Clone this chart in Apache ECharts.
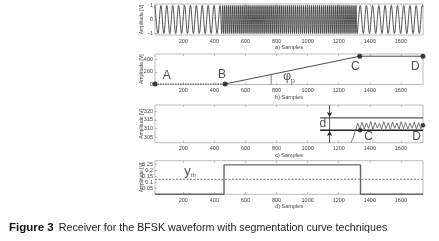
<!DOCTYPE html>
<html><head><meta charset="utf-8">
<script src="https://cdn.jsdelivr.net/npm/echarts@6/dist/echarts.min.js"></script>
<style>html,body{margin:0;padding:0;background:#fff}#c{width:439px;height:241px}</style>
</head><body><div id="c"></div>
<script>
// ---- data ----
const xTicks = [200, 400, 600, 800, 1000, 1200, 1400, 1600];
const xRange = [18, 1742];
// a) BFSK waveform: turning points [sample, amplitude]
const waveLow1 = [[18,1],[37,-1],[56,1],[75,-1],[94,1],[113,-1],[132,1],[151,-1],[170,1],[189,-1],[208,1],[227,-1],[246,1],[265,-1],[284,1],[303,-1],[322,1],[341,-1],[360,1],[379,-1],[398,1],[417,-1],[436,1]];
const waveHigh = [[447,-1],[453,1],[460,-1],[466,1],[473,-1],[479,1],[486,-1],[492,1],[499,-1],[505,1],[512,-1],[518,1],[525,-1],[531,1],[538,-1],[544,1],[551,-1],[557,1],[564,-1],[570,1],[577,-1],[583,1],[590,-1],[596,1],[603,-1],[609,1],[616,-1],[622,1],[629,-1],[635,1],[642,-1],[648,1],[655,-1],[661,1],[668,-1],[674,1],[681,-1],[687,1],[694,-1],[700,1],[707,-1],[713,1],[720,-1],[726,1],[733,-1],[739,1],[746,-1],[752,1],[759,-1],[765,1],[772,-1],[778,1],[785,-1],[791,1],[798,-1],[804,1],[811,-1],[817,1],[824,-1],[830,1],[837,-1],[843,1],[850,-1],[856,1],[863,-1],[869,1],[876,-1],[882,1],[889,-1],[895,1],[902,-1],[908,1],[915,-1],[921,1],[928,-1],[934,1],[941,-1],[947,1],[954,-1],[960,1],[967,-1],[973,1],[980,-1],[986,1],[993,-1],[999,1],[1006,-1],[1012,1],[1019,-1],[1025,1],[1032,-1],[1038,1],[1045,-1],[1051,1],[1058,-1],[1064,1],[1071,-1],[1077,1],[1084,-1],[1090,1],[1097,-1],[1103,1],[1110,-1],[1116,1],[1123,-1],[1129,1],[1136,-1],[1142,1],[1149,-1],[1155,1],[1162,-1],[1168,1],[1175,-1],[1181,1],[1188,-1],[1194,1],[1201,-1],[1207,1],[1214,-1],[1220,1],[1227,-1],[1233,1],[1240,-1],[1246,1],[1253,-1],[1259,1],[1266,-1],[1272,1],[1279,-1],[1285,1],[1292,-1],[1298,1],[1305,-1],[1311,1],[1318,-1]];
const waveLow2 = [[1338,1],[1358,-1],[1378,1],[1398,-1],[1418,1],[1438,-1],[1458,1],[1478,-1],[1498,1],[1518,-1],[1538,1],[1558,-1],[1578,1],[1598,-1],[1618,1],[1638,-1],[1658,1],[1678,-1],[1698,1],[1718,-1],[1738,1],[1742,0.9]];
const waveYTicks = [-1, 0, 1];
// b) segmentation curve
const segAB = [[18,8],[469,8]];
const segBCD = [[469,8],[1335,445],[1742,445]];
const segPoints = [[18,8],[469,8],[1335,445],[1742,445]];
const segLetters = [[93,140,'A'],[449,150,'B'],[1306,285,'C'],[1692,285,'D']];
const phiLine = [[765,0],[765,158]];
const phiLabel = [880,118];
const segYTicks = [0, 200, 400];
// c) zoom on C-D
const zoomCurve = [[1278,302],[1292,304.5],[1303,308],[1312,310],[1322,313.2],[1336,309.6],[1350,313.8],[1364,309.8],[1378,313.2],[1392,310.2],[1406,314],[1420,309.6],[1434,313.6],[1448,310.4],[1462,313],[1476,309.8],[1490,314],[1504,310],[1518,313.4],[1532,309.6],[1546,313.8],[1560,310.2],[1574,313.2],[1588,309.8],[1602,314],[1616,310],[1630,313.6],[1644,309.8],[1658,313.2],[1672,310.2],[1686,313.8],[1700,309.6],[1714,313.4],[1728,310],[1742,312]];
const zoomUpper = [[1080,316.2],[1742,316.2]];
const zoomLower = [[1080,309.1],[1742,309.1]];
const zoomPoints = [[1338,309.1],[1742,312]];
const zoomLetters = [[1098,312.6,'d'],[1392,305.6,'C'],[1700,305.6,'D']];
const dArrowX = 1141;
const zoomYTicks = [305, 310, 315, 320];
// d) decision
const decision = [[18,0],[462,0],[462,0.245],[1340,0.245],[1340,0],[1742,0]];
const threshold = 0.125;
const decYTicks = [0.05, 0.1, 0.15, 0.2, 0.25];
const ythLabel = [243, 0.19];

// ---- chart ----
const FONT = 'Liberation Sans, Arial, sans-serif';
const grids = [
  {left:155, right:16, top:4, height:31},
  {left:155, right:16, top:54, height:30.5},
  {left:155, right:16, top:105, height:37.7},
  {left:155, right:16, top:160.7, height:33.6}
];
const names = ['a) Samples','b) Samples','c) Samples','d) Samples'];
const yR = [[-1.1,1.1],[0,480],[302,323.5],[0,0.28]];
const yT = [waveYTicks, segYTicks, zoomYTicks, decYTicks];
const fmt = v => String(v);
const xAxes = [];
grids.forEach((g,i)=>{
  xAxes.push({
    type:'value', gridIndex:i, min:xRange[0], max:xRange[1],
    name:names[i], nameLocation:'middle', nameGap:9.5, nameMoveOverlap:false,
    nameTextStyle:{fontSize:5.5, color:'#444', fontFamily:FONT},
    axisLine:{show:false},
    axisTick:{show:true, inside:true, length:2, customValues:xTicks, lineStyle:{color:'#999',width:0.6}},
    axisLabel:{fontSize:5.5, color:'#444', margin:3, fontFamily:FONT, customValues:xTicks, formatter:fmt},
    splitLine:{show:false}
  });
  xAxes.push({
    type:'value', gridIndex:i, position:'top', min:xRange[0], max:xRange[1],
    axisLine:{show:false}, axisLabel:{show:false}, splitLine:{show:false},
    axisTick:{show:true, inside:true, length:2, customValues:xTicks, lineStyle:{color:'#999',width:0.6}}
  });
});
const yAxes = grids.map((g,i)=>({
  type:'value', gridIndex:i, min:yR[i][0], max:yR[i][1],
  name:'Amplitude [V]', nameLocation:'middle', nameGap:11, nameMoveOverlap:false,
  nameTextStyle:{fontSize:5, color:'#444', fontFamily:FONT},
  axisLine:{show:false},
  axisTick:{show:true, inside:true, length:2, customValues:yT[i], lineStyle:{color:'#999',width:0.6}},
  axisLabel:{fontSize:5.5, color:'#444', margin:2, fontFamily:FONT, customValues:yT[i], formatter:fmt},
  splitLine:{show:false}
}));
grids.forEach(g=>{g.show=true; g.borderColor='#aaa'; g.borderWidth=0.8; g.backgroundColor='transparent';});

function lineS(i, data, color, width, extra){
  return Object.assign({type:'line', xAxisIndex:i*2, yAxisIndex:i, data:data, symbol:'none', silent:true,
    lineStyle:{color:color, width:width}, animation:false}, extra||{});
}
function letters(i, arr, size){
  return {type:'scatter', xAxisIndex:i*2, yAxisIndex:i, symbolSize:0, silent:true, animation:false,
    data:arr.map(a=>({value:[a[0],a[1]], name:a[2]})),
    label:{show:true, position:'inside', formatter:'{b}', fontSize:size, color:'#222', fontFamily:FONT}};
}

const series = [
  lineS(0, waveLow1.concat(waveHigh, waveLow2), '#333', 0.85, {smooth:0.35}),
  lineS(1, segAB, '#333', 0.8, {lineStyle:{color:'#333',width:0.8,type:[1.5,1]}}),
  lineS(1, segBCD, '#222', 0.8),
  {type:'scatter', xAxisIndex:2, yAxisIndex:1, data:segPoints, symbolSize:5, itemStyle:{color:'#111'}, silent:true, animation:false},
  lineS(1, phiLine, '#444', 0.7),
  letters(1, segLetters, 12),
  {type:'scatter', xAxisIndex:2, yAxisIndex:1, symbolSize:0, silent:true, animation:false,
   data:[{value:phiLabel}],
   label:{show:true, position:'inside', formatter:'{p|φ}{s|p}', rich:{p:{fontSize:12,color:'#222',fontFamily:FONT},s:{fontSize:7,color:'#222',fontFamily:FONT,padding:[8,0,0,0]}}}},
  lineS(2, zoomUpper, '#555', 1.3),
  lineS(2, zoomLower, '#222', 1.3),
  lineS(2, zoomCurve, '#555', 0.8),
  {type:'scatter', xAxisIndex:4, yAxisIndex:2, data:zoomPoints, symbolSize:4.5, itemStyle:{color:'#111'}, silent:true, animation:false},
  letters(2, zoomLetters, 12),
  lineS(2, [[dArrowX,309.1],[dArrowX,316.2]], '#333', 0.8, {
    markLine:{silent:true, symbol:['none','arrow'], symbolSize:[4,5], animation:false,
      lineStyle:{color:'#222', width:0.8, type:'solid'}, label:{show:false},
      data:[[{coord:[dArrowX,323.5]},{coord:[dArrowX,316.6]}],[{coord:[dArrowX,302]},{coord:[dArrowX,308.7]}]]}}),
  lineS(3, decision, '#666', 1.4),
  lineS(3, [[xRange[0],threshold],[xRange[1],threshold]], '#777', 1, {lineStyle:{color:'#777',width:1,type:[2,1.5]}}),
  {type:'scatter', xAxisIndex:6, yAxisIndex:3, symbolSize:0, silent:true, animation:false,
   data:[{value:ythLabel}],
   label:{show:true, position:'inside', formatter:'{p|y}{s|th}', rich:{p:{fontSize:13,color:'#222',fontFamily:FONT},s:{fontSize:6,color:'#222',fontFamily:FONT,padding:[8,0,0,0]}}}}
];

const chart = echarts.init(document.getElementById('c'), null, {renderer:'canvas'});
chart.setOption({
  animation:false,
  grid:grids, xAxis:xAxes, yAxis:yAxes, series:series,
  title:{left:4, top:214, text:'{b|Figure 3} {r|Receiver for the BFSK waveform with segmentation curve techniques}',
    textStyle:{fontWeight:'normal', rich:{b:{fontSize:11.5,fontWeight:'bold',color:'#111',fontFamily:FONT},r:{fontSize:10.7,fontWeight:'normal',color:'#222',fontFamily:FONT}}}}
});
</script></body></html>
